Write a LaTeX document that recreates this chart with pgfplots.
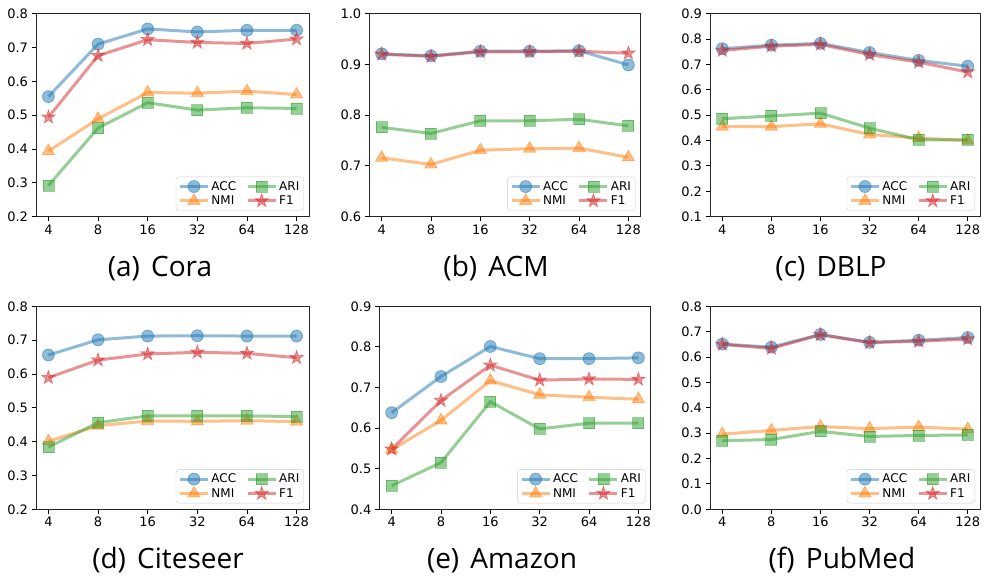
\documentclass[border=0pt]{standalone}
\usepackage{fontspec}
\setmainfont{DejaVu Sans}
\newfontfamily\capfont{Open Sans}
\usepackage{pgfplots}
\pgfplotsset{compat=1.18}
\usetikzlibrary{plotmarks}

\definecolor{tabblue}{HTML}{1F77B4}
\definecolor{taborange}{HTML}{FF7F0E}
\definecolor{tabgreen}{HTML}{2CA02C}
\definecolor{tabred}{HTML}{D62728}

\pgfdeclareplotmark{fstar}{%
  \pgfpathmoveto{\pgfpointpolar{90}{\pgfplotmarksize}}%
  \pgfpathlineto{\pgfpointpolar{126}{0.382\pgfplotmarksize}}%
  \pgfpathlineto{\pgfpointpolar{162}{\pgfplotmarksize}}%
  \pgfpathlineto{\pgfpointpolar{198}{0.382\pgfplotmarksize}}%
  \pgfpathlineto{\pgfpointpolar{234}{\pgfplotmarksize}}%
  \pgfpathlineto{\pgfpointpolar{270}{0.382\pgfplotmarksize}}%
  \pgfpathlineto{\pgfpointpolar{306}{\pgfplotmarksize}}%
  \pgfpathlineto{\pgfpointpolar{342}{0.382\pgfplotmarksize}}%
  \pgfpathlineto{\pgfpointpolar{18}{\pgfplotmarksize}}%
  \pgfpathlineto{\pgfpointpolar{54}{0.382\pgfplotmarksize}}%
  \pgfpathclose
  \pgfusepathqfillstroke
}

\pgfplotsset{
  sACC/.style={color=tabblue, line width=3pt, opacity=0.5, mark=*, mark size=6pt, mark options={solid, line width=0.8pt}},
  sNMI/.style={color=taborange, line width=3pt, opacity=0.5, mark=triangle*, mark size=7pt, mark options={solid, line width=0.8pt}},
  sARI/.style={color=tabgreen, line width=3pt, opacity=0.5, mark=square*, mark size=5.5pt, mark options={solid, line width=0.8pt}},
  sF1/.style={color=tabred, line width=3pt, opacity=0.5, mark=fstar, mark size=7pt, mark options={solid, line width=0.8pt}},
  panel/.style={
    scale only axis, height=203pt, anchor=south west,
    xmin=-0.25, xmax=5.25, xtick={0,...,5}, xticklabels={4,8,16,32,64,128},
    xtick pos=bottom, ytick pos=left,
    tick align=outside, major tick length=4.5pt,
    tick style={black, line width=0.9pt},
    axis line style={line width=0.9pt, black!85},
    yticklabel style={/pgf/number format/.cd, fixed, fixed zerofill, precision=1},
    ticklabel style={font=\fontsize{13}{15}\selectfont},
    /pgf/number format/assume math mode=true,
    legend columns=2,
    legend cell align=left,
    legend style={at={(rel axis cs:1,0)}, anchor=south east, xshift=-5pt, yshift=6pt,
      font=\fontsize{12}{14}\selectfont, draw=black!20, rounded corners=3pt,
      fill=white, fill opacity=0.8, text opacity=1, inner sep=2.5pt,
      row sep=0pt,
      /tikz/every even column/.append style={column sep=8pt}},
    legend image code/.code={\draw[mark repeat=2, mark phase=2, ##1] plot coordinates {(0pt,0pt) (14pt,0pt) (28pt,0pt)};},
  },
}
\newcommand{\leg}{%
  \addlegendimage{sACC}\addlegendentry{ACC}
  \addlegendimage{sARI}\addlegendentry{ARI}
  \addlegendimage{sNMI}\addlegendentry{NMI}
  \addlegendimage{sF1}\addlegendentry{F1}
}

\begin{document}
\begin{tikzpicture}
\path[use as bounding box] (0pt,0pt) rectangle (984pt,577pt);

% (a) Cora
\begin{axis}[panel, at={(36pt,360.3pt)}, width=273pt, ymin=0.2, ymax=0.8, ytick={0.2,0.3,0.4,0.5,0.6,0.7,0.8}]
\addplot[sACC, forget plot] coordinates {(0,0.555) (1,0.710) (2,0.755) (3,0.746) (4,0.751) (5,0.751)};
\addplot[sNMI, forget plot] coordinates {(0,0.394) (1,0.489) (2,0.567) (3,0.565) (4,0.571) (5,0.561)};
\addplot[sARI, forget plot] coordinates {(0,0.292) (1,0.462) (2,0.537) (3,0.515) (4,0.522) (5,0.520)};
\addplot[sF1, forget plot] coordinates {(0,0.494) (1,0.676) (2,0.723) (3,0.715) (4,0.712) (5,0.725)};
\leg
\end{axis}

% (b) ACM
\begin{axis}[panel, at={(369.3pt,360.3pt)}, width=271.4pt, ymin=0.6, ymax=1.0, ytick={0.6,0.7,0.8,0.9,1.0}]
\addplot[sACC, forget plot] coordinates {(0,0.921) (1,0.917) (2,0.926) (3,0.926) (4,0.927) (5,0.899)};
\addplot[sNMI, forget plot] coordinates {(0,0.716) (1,0.703) (2,0.731) (3,0.734) (4,0.735) (5,0.717)};
\addplot[sARI, forget plot] coordinates {(0,0.776) (1,0.764) (2,0.789) (3,0.789) (4,0.792) (5,0.779)};
\addplot[sF1, forget plot] coordinates {(0,0.920) (1,0.916) (2,0.925) (3,0.925) (4,0.926) (5,0.922)};
\leg
\end{axis}

% (c) DBLP
\begin{axis}[panel, at={(710pt,360.3pt)}, width=270pt, ymin=0.1, ymax=0.9, ytick={0.1,0.2,0.3,0.4,0.5,0.6,0.7,0.8,0.9}]
\addplot[sACC, forget plot] coordinates {(0,0.762) (1,0.776) (2,0.783) (3,0.747) (4,0.716) (5,0.693)};
\addplot[sNMI, forget plot] coordinates {(0,0.455) (1,0.455) (2,0.466) (3,0.424) (4,0.410) (5,0.400)};
\addplot[sARI, forget plot] coordinates {(0,0.486) (1,0.497) (2,0.508) (3,0.449) (4,0.403) (5,0.403)};
\addplot[sF1, forget plot] coordinates {(0,0.755) (1,0.772) (2,0.779) (3,0.739) (4,0.709) (5,0.670)};
\leg
\end{axis}

% (d) Citeseer
\begin{axis}[panel, at={(36pt,67.7pt)}, width=273pt, ymin=0.2, ymax=0.8, ytick={0.2,0.3,0.4,0.5,0.6,0.7,0.8}]
\addplot[sACC, forget plot] coordinates {(0,0.656) (1,0.701) (2,0.712) (3,0.713) (4,0.712) (5,0.712)};
\addplot[sNMI, forget plot] coordinates {(0,0.401) (1,0.447) (2,0.461) (3,0.460) (4,0.462) (5,0.459)};
\addplot[sARI, forget plot] coordinates {(0,0.384) (1,0.456) (2,0.476) (3,0.476) (4,0.476) (5,0.474)};
\addplot[sF1, forget plot] coordinates {(0,0.589) (1,0.641) (2,0.659) (3,0.664) (4,0.661) (5,0.648)};
\leg
\end{axis}

% (e) Amazon
\begin{axis}[panel, at={(379.3pt,67.7pt)}, width=271.4pt, ymin=0.4, ymax=0.9, ytick={0.4,0.5,0.6,0.7,0.8,0.9}]
\addplot[sACC, forget plot] coordinates {(0,0.638) (1,0.727) (2,0.801) (3,0.771) (4,0.771) (5,0.773)};
\addplot[sNMI, forget plot] coordinates {(0,0.547) (1,0.619) (2,0.717) (3,0.682) (4,0.676) (5,0.671)};
\addplot[sARI, forget plot] coordinates {(0,0.458) (1,0.515) (2,0.665) (3,0.598) (4,0.612) (5,0.612)};
\addplot[sF1, forget plot] coordinates {(0,0.548) (1,0.668) (2,0.755) (3,0.718) (4,0.721) (5,0.720)};
\leg
\end{axis}

% (f) PubMed
\begin{axis}[panel, at={(710pt,67.7pt)}, width=270pt, ymin=0.0, ymax=0.8, ytick={0.0,0.1,0.2,0.3,0.4,0.5,0.6,0.7,0.8}]
\addplot[sACC, forget plot] coordinates {(0,0.651) (1,0.639) (2,0.689) (3,0.658) (4,0.666) (5,0.677)};
\addplot[sNMI, forget plot] coordinates {(0,0.296) (1,0.311) (2,0.326) (3,0.318) (4,0.324) (5,0.316)};
\addplot[sARI, forget plot] coordinates {(0,0.270) (1,0.275) (2,0.307) (3,0.287) (4,0.291) (5,0.293)};
\addplot[sF1, forget plot] coordinates {(0,0.650) (1,0.634) (2,0.688) (3,0.657) (4,0.662) (5,0.671)};
\leg
\end{axis}

\node[anchor=base, font=\capfont\fontsize{28}{32}\selectfont] at (160pt,300pt) {(a)\hspace{0.4em}Cora};
\node[anchor=base, font=\capfont\fontsize{28}{32}\selectfont] at (496pt,300pt) {(b)\hspace{0.4em}ACM};
\node[anchor=base, font=\capfont\fontsize{28}{32}\selectfont] at (831pt,300pt) {(c)\hspace{0.4em}DBLP};
\node[anchor=base, font=\capfont\fontsize{28}{32}\selectfont] at (168pt,8pt) {(d)\hspace{0.4em}Citeseer};
\node[anchor=base, font=\capfont\fontsize{28}{32}\selectfont] at (502pt,8pt) {(e)\hspace{0.4em}Amazon};
\node[anchor=base, font=\capfont\fontsize{28}{32}\selectfont] at (842pt,8pt) {(f)\hspace{0.4em}PubMed};
\end{tikzpicture}
\end{document}
